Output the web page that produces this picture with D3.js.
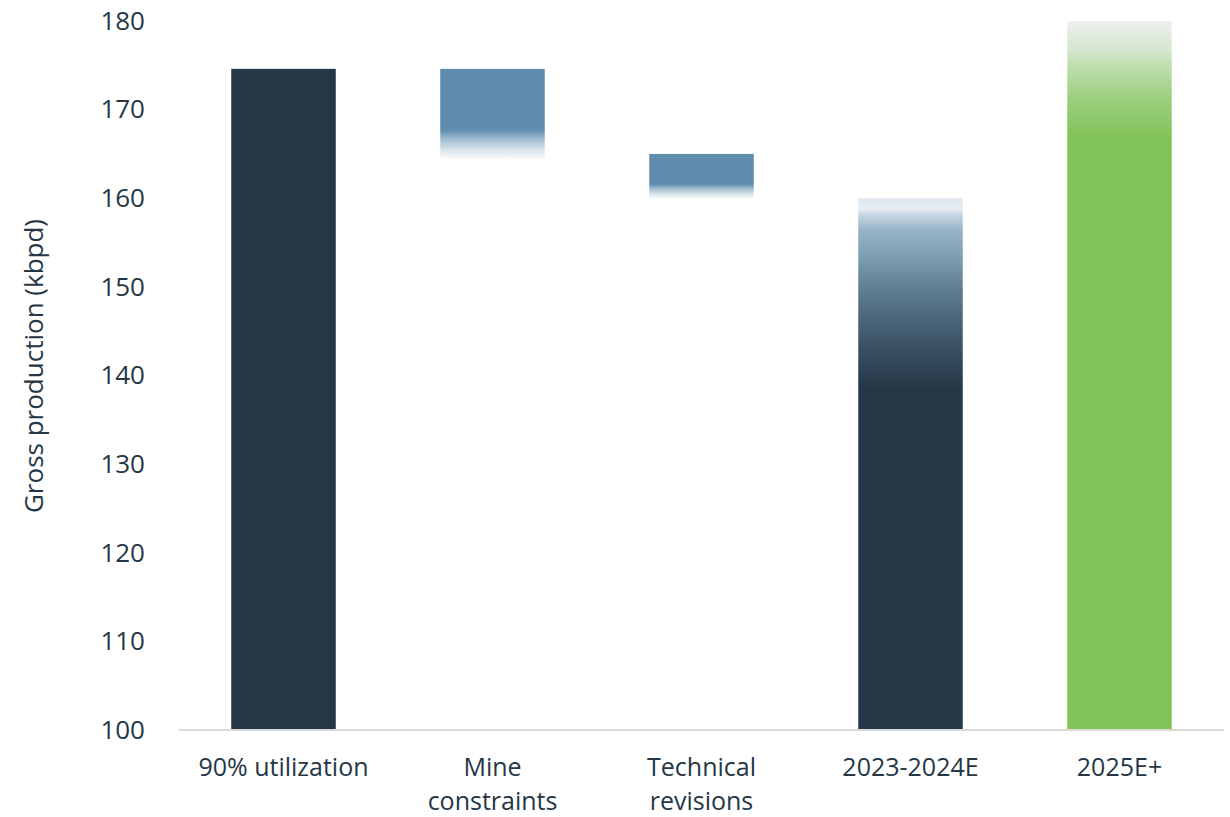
<!DOCTYPE html>
<html>
<head>
<meta charset="utf-8">
<script src="https://cdn.jsdelivr.net/npm/d3@7"></script>
<style>
  html, body { margin: 0; padding: 0; background: #ffffff; }
  svg { display: block; font-family: "Open Sans", "Noto Sans", sans-serif; }
</style>
</head>
<body>
<svg id="chart" width="1230" height="817"></svg>
<script>
// Production bridge: 90% utilization down to the 2023-2024E estimate, then 2025E+
const categories = ["90% utilization", "Mine constraints", "Technical revisions", "2023-2024E", "2025E+"];
const categoryLines = [["90% utilization"], ["Mine", "constraints"], ["Technical", "revisions"], ["2023-2024E"], ["2025E+"]];
const barLow  = [100, 164.5, 160, 100, 100];
const barHigh = [174.6, 174.6, 165, 160, 180];
const yTicks = [100, 110, 120, 130, 140, 150, 160, 170, 180];
const yTitle = "Gross production (kbpd)";

const textColor = "#253746";
const fills = ["#253746", "url(#fadeBlueA)", "url(#fadeBlueB)", "url(#fadeDark)", "url(#fadeGreen)"];

const svg = d3.select("#chart");

const x = d3.scaleBand().domain(categories).range([179, 1224]).paddingInner(0.5).paddingOuter(0.25);
const y = d3.scaleLinear().domain([100, 180]).range([730, 21]);

// gradient definitions
const defs = svg.append("defs");
function gradient(id, stops) {
  const g = defs.append("linearGradient").attr("id", id)
    .attr("x1", 0).attr("y1", 0).attr("x2", 0).attr("y2", 1);
  stops.forEach(s => g.append("stop")
    .attr("offset", s[0]).attr("stop-color", s[1]).attr("stop-opacity", s[2] === undefined ? 1 : s[2]));
}
const blue = "#5d8cad";
gradient("fadeBlueA", [[0, blue], [0.68, blue], [0.78, blue, 0.6], [0.9, blue, 0.25], [1, blue, 0.05]]);
gradient("fadeBlueB", [[0, blue], [0.68, blue], [0.78, blue, 0.6], [0.9, blue, 0.25], [1, blue, 0.05]]);
gradient("fadeDark", [
  [0, "#dfe7ee"], [0.02, "#e8eef3"], [0.03, "#cad8e3"], [0.045, "#b0c6d5"], [0.06, "#97b3c7"],
  [0.1, "#82a2b8"], [0.17, "#5f7e94"], [0.23, "#4a6478"], [0.3, "#354a5c"], [0.36, "#253746"], [1, "#253746"]
]);
gradient("fadeGreen", [
  [0, "#eef2f4"], [0.013, "#e6ede4"], [0.041, "#d6e6cf"], [0.055, "#c8e1bb"], [0.083, "#b0d899"],
  [0.111, "#9ccf7e"], [0.14, "#8dc86a"], [0.164, "#81c356"], [1, "#81c356"]
]);

// bars
svg.append("g").selectAll("rect")
  .data(categories)
  .join("rect")
  .attr("x", d => x(d))
  .attr("width", x.bandwidth())
  .attr("y", (d, i) => y(Math.max(barLow[i], barHigh[i])))
  .attr("height", (d, i) => Math.abs(y(barLow[i]) - y(barHigh[i])))
  .attr("fill", (d, i) => fills[i]);

// baseline
svg.append("line")
  .attr("x1", x.range()[0]).attr("x2", x.range()[1])
  .attr("y1", y(100)).attr("y2", y(100))
  .attr("stroke", "#d9d9d9").attr("stroke-width", 2);

// y axis (labels only)
const yAxis = svg.append("g")
  .attr("transform", `translate(${x.range()[0]},0)`)
  .call(d3.axisLeft(y).tickValues(yTicks).tickSize(0).tickPadding(34).tickFormat(d3.format("d")));
yAxis.select(".domain").remove();
yAxis.selectAll("text")
  .attr("fill", textColor)
  .style("font-size", "26px")
  .style("font-family", "'Open Sans', 'Noto Sans', sans-serif");

// category labels
const xl = svg.append("g");
categories.forEach((c, i) => {
  const t = xl.append("text")
    .attr("x", x(c) + x.bandwidth() / 2)
    .attr("y", 776)
    .attr("text-anchor", "middle")
    .attr("fill", textColor)
    .style("font-size", "25px");
  categoryLines[i].forEach((line, j) => {
    t.append("tspan").attr("x", x(c) + x.bandwidth() / 2).attr("dy", j === 0 ? 0 : 33.5).text(line);
  });
});

// y axis title
svg.append("text")
  .attr("transform", "translate(43,366) rotate(-90)")
  .attr("text-anchor", "middle")
  .attr("fill", textColor)
  .style("font-size", "26px")
  .text(yTitle);
</script>
</body>
</html>
